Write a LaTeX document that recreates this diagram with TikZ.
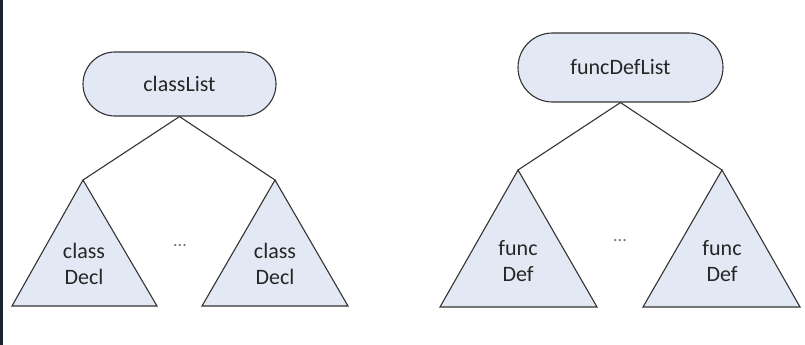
\documentclass[tikz,border=0pt]{standalone}
\usepackage{fontspec}
\setmainfont{Carlito}
\usetikzlibrary{shapes.misc}
\definecolor{boxfill}{HTML}{E3E9F4}
\definecolor{edge}{HTML}{333333}
\definecolor{strip}{HTML}{1C2330}
\begin{document}
\begin{tikzpicture}[x=1pt,y=-1pt,
  rootbox/.style={rounded rectangle, draw=edge, fill=boxfill, line width=1.1pt, font=\fontsize{22}{26}\selectfont, text=black!85, inner sep=0pt},
  tri/.style={draw=edge, fill=boxfill, line width=1.1pt, line join=miter},
  conn/.style={draw=edge, line width=1.1pt},
  lbl/.style={font=\fontsize{22}{26}\selectfont, align=center, text=black!85, inner sep=0pt},
  dotsl/.style={font=\fontsize{18}{20}\selectfont, text=black!55, inner sep=0pt}]
\useasboundingbox (0,0) rectangle (805,345);
\fill[white] (0,0) rectangle (805,345);
\fill[strip] (0,0) rectangle (3,345);
% left tree
\node[rootbox, minimum width=193pt, minimum height=64pt] (cl) at (179.5,84) {classList};
\coordinate (la) at (83,180);
\coordinate (ra) at (275,180);
\draw[conn] (cl.south) -- (la);
\draw[conn] (cl.south) -- (ra);
\draw[tri] (la) -- (12,306) -- (157,306) -- cycle;
\draw[tri] (ra) -- (202,306) -- (348,306) -- cycle;
\node[lbl] (cd1) at (84,264) {class\\Decl};
\node[lbl] (cd2) at (275,264) {class\\Decl};
\node[dotsl] (dots1) at (180,246) {...};
% right tree
\node[rootbox, minimum width=205pt, minimum height=69pt] (fl) at (620.5,67.5) {funcDefList};
\coordinate (lb) at (518,170);
\coordinate (rb) at (722,170);
\draw[conn] (fl.south) -- (lb);
\draw[conn] (fl.south) -- (rb);
\draw[tri] (lb) -- (440,307) -- (597,307) -- cycle;
\draw[tri] (rb) -- (643,307) -- (800,307) -- cycle;
\node[lbl] (fd1) at (518,261) {func\\Def};
\node[lbl] (fd2) at (722,261) {func\\Def};
\node[dotsl] (dots2) at (620,241) {...};
\end{tikzpicture}
\end{document}
